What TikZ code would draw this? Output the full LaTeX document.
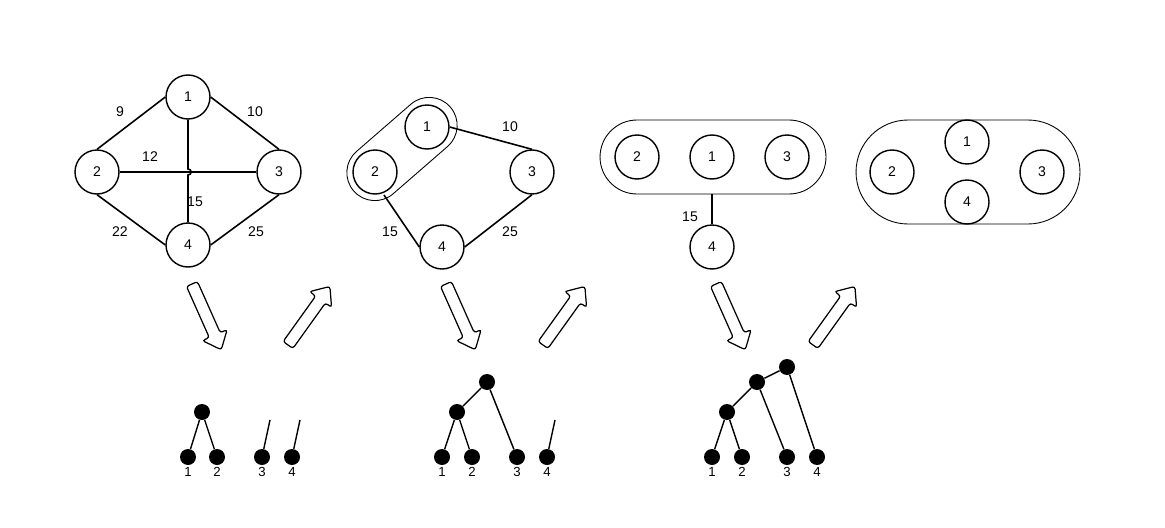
\documentclass[tikz,border=0pt]{standalone}
\usepackage{fontspec}
\setmainfont{Liberation Sans}
\usetikzlibrary{shapes.misc}
\begin{document}
\begin{tikzpicture}[x=0.02cm,y=-0.02cm,
  vnode/.style={circle,draw,line width=0.8pt,minimum size=0.88cm,inner sep=0pt,font=\fontsize{8}{9}\selectfont},
  edge/.style={line width=0.9pt},
  wlab/.style={font=\fontsize{8}{9}\selectfont,inner sep=0pt},
  capsule/.style={rounded rectangle,draw,line width=0.5pt,inner sep=0pt},
  dot/.style={circle,fill=black,minimum size=0.32cm,inner sep=0pt},
  tline/.style={line width=0.8pt},
  llab/.style={font=\fontsize{7.5}{9}\selectfont,inner sep=0pt},
  barrow/.pic={\draw[line width=0.7pt,rounded corners=1.5pt,fill=white]
     (0cm,-0.12cm) -- (1.12cm,-0.12cm) -- (1.12cm,-0.27cm) -- (1.44cm,0cm) -- (1.12cm,0.27cm) -- (1.12cm,0.12cm) -- (0cm,0.12cm) -- cycle;}]
\useasboundingbox (0,0) rectangle (1165,527);

% ---------- graph 1 ----------
\node[vnode] (a1) at (188,97) {1};
\node[vnode] (a2) at (97,172) {2};
\node[vnode] (a3) at (279,172) {3};
\node[vnode] (a4) at (188,245) {4};
\draw[edge] (a2.north) -- (a1.west);
\draw[edge] (a1.east) -- (a3.north);
\draw[edge] (a2.south) -- (a4.west);
\draw[edge] (a4.east) -- (a3.south);
\draw[edge] (a2.east) -- (a3.west);
\coordinate (h1) at (188,169);
\coordinate (h2) at (188,175);
\draw[edge] (a1.south) -- (h1) to[out=0,in=0,looseness=1.8] (h2) -- (a4.north);
\node[wlab] (w9) at (120,112) {9};
\node[wlab] (w10) at (255,112) {10};
\node[wlab] (w12) at (150,157) {12};
\node[wlab] (w15) at (195,202) {15};
\node[wlab] (w22) at (120,232) {22};
\node[wlab] (w25) at (256,232) {25};

% ---------- graph 2 ----------
\node[capsule,minimum width=2.56cm,minimum height=1.12cm,rotate=41] (b12) at (402,149) {};
\node[vnode] (b1) at (427,127) {1};
\node[vnode] (b2) at (375,172) {2};
\node[vnode] (b3) at (532,172) {3};
\node[vnode] (b4) at (442,247) {4};
\draw[edge] (b1.east) -- (b3.north);
\coordinate (b2s) at (384,195);
\draw[edge] (b2s) -- (b4.west);
\draw[edge] (b3.south) -- (b4.east);
\node[wlab] (x10) at (510,127) {10};
\node[wlab] (x15) at (390,232) {15};
\node[wlab] (x25) at (510,232) {25};

% ---------- graph 3 ----------
\node[capsule,minimum width=4.52cm,minimum height=1.48cm] (c123) at (713,157) {};
\node[vnode] (c2) at (637,157) {2};
\node[vnode] (c1) at (712,157) {1};
\node[vnode] (c3) at (787,157) {3};
\node[vnode] (c4) at (712,247) {4};
\draw[line width=1pt] (c4.north) -- (c4.north |- c123.south);
\node[wlab] (y15) at (690,217) {15};

% ---------- graph 4 ----------
\node[capsule,minimum width=4.48cm,minimum height=2.08cm] (d) at (968,172) {};
\node[vnode] (d1) at (967,142) {1};
\node[vnode] (d4) at (967,202) {4};
\node[vnode] (d2) at (892,172) {2};
\node[vnode] (d3) at (1042,172) {3};

% ---------- block arrows ----------
\pic[rotate=-66] at (192,284) {barrow};
\pic[rotate=54.4] at (288,345) {barrow};
\pic[rotate=-66] at (446,284) {barrow};
\pic[rotate=54.4] at (543,345) {barrow};
\pic[rotate=-66] at (716,284) {barrow};
\pic[rotate=54.4] at (813,345) {barrow};

% ---------- dendrogram 1 ----------
\coordinate (e3t) at (270,420);
\coordinate (e4t) at (300,420);
\node[dot] (e1) at (188,457) {};
\node[dot] (e2) at (217,457) {};
\node[dot] (e3) at (262,457) {};
\node[dot] (e4) at (292,457) {};
\node[dot] (eA) at (202,412) {};
\draw[tline] (eA) -- (e1) (eA) -- (e2) (e3) -- (e3t) (e4) -- (e4t);
\node[llab] (el1) at (188,472) {1};
\node[llab] (el2) at (217,472) {2};
\node[llab] (el3) at (262,472) {3};
\node[llab] (el4) at (292,472) {4};

% ---------- dendrogram 2 ----------
\coordinate (f4t) at (555,420);
\node[dot] (f1) at (442,457) {};
\node[dot] (f2) at (472,457) {};
\node[dot] (f3) at (517,457) {};
\node[dot] (f4) at (547,457) {};
\node[dot] (fA) at (457,412) {};
\node[dot] (fB) at (487,382) {};
\draw[tline] (fA) -- (f1) (fA) -- (f2) (fB) -- (fA) (fB) -- (f3) (f4) -- (f4t);
\node[llab] (fl1) at (442,472) {1};
\node[llab] (fl2) at (472,472) {2};
\node[llab] (fl3) at (517,472) {3};
\node[llab] (fl4) at (547,472) {4};

% ---------- dendrogram 3 ----------
\node[dot] (g1) at (712,457) {};
\node[dot] (g2) at (742,457) {};
\node[dot] (g3) at (787,457) {};
\node[dot] (g4) at (817,457) {};
\node[dot] (gA) at (727,412) {};
\node[dot] (gB) at (757,382) {};
\node[dot] (gC) at (787,367) {};
\draw[tline] (gA) -- (g1) (gA) -- (g2) (gB) -- (gA) (gB) -- (g3) (gC) -- (gB) (gC) -- (g4);
\node[llab] (gl1) at (712,472) {1};
\node[llab] (gl2) at (742,472) {2};
\node[llab] (gl3) at (787,472) {3};
\node[llab] (gl4) at (817,472) {4};
\end{tikzpicture}
\end{document}
